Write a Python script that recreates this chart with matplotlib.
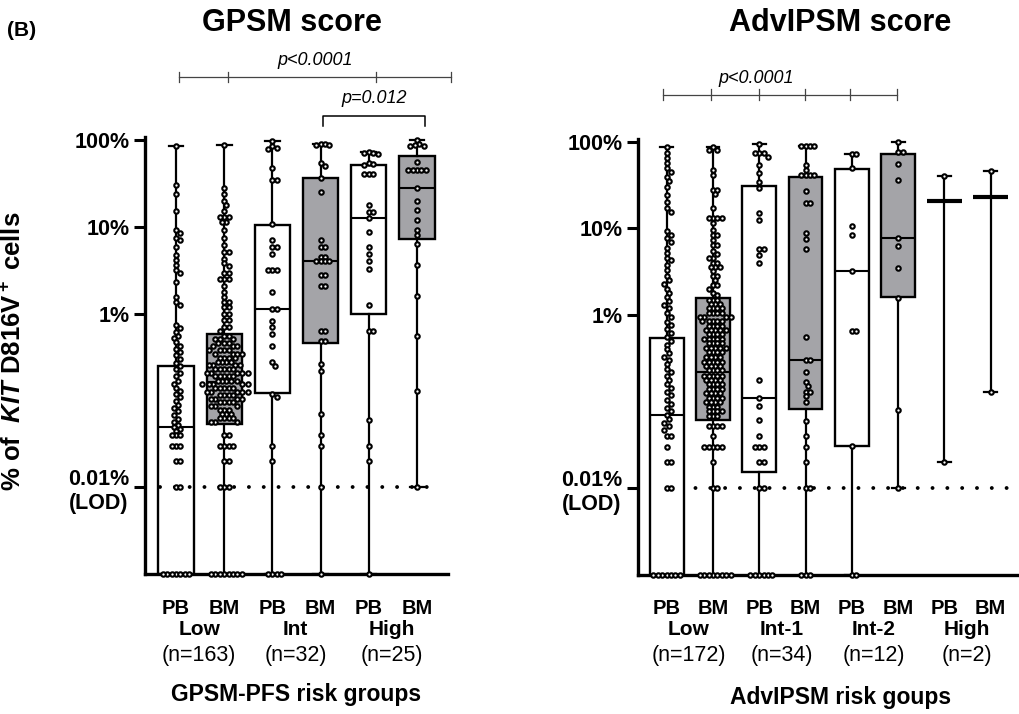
import numpy as np
import matplotlib
matplotlib.use('Agg')
import matplotlib.pyplot as plt
from matplotlib.ticker import NullLocator
from matplotlib.transforms import blended_transform_factory

plt.rcParams['font.family'] = ['Liberation Sans', 'DejaVu Sans']
plt.rcParams['mathtext.fontset'] = 'custom'
plt.rcParams['mathtext.rm'] = 'Liberation Sans:bold'
plt.rcParams['mathtext.it'] = 'Liberation Sans:italic:bold'
plt.rcParams['mathtext.bf'] = 'Liberation Sans:bold'

# ---- data (% of KIT D816V+ cells, 0.001 = below LOD) ----
gpsm_groups = ['Low', 'Int', 'High']
gpsm_n = ['(n=163)', '(n=32)', '(n=25)']
adv_groups = ['Low', 'Int-1', 'Int-2', 'High']
adv_n = ['(n=172)', '(n=34)', '(n=12)', '(n=2)']

pb_low_gpsm = [86, 30, 24, 15, 9.2, 8.4, 7.5, 7.0, 5.9, 4.7, 4.1, 3.6, 3.2, 2.9, 2.3, 1.56, 1.36, 1.25,
               0.74, 0.68, 0.62, 0.56, 0.52, 0.47, 0.43, 0.39, 0.36, 0.33, 0.30, 0.27, 0.25, 0.23,
               0.21, 0.19, 0.17, 0.155, 0.14, 0.13, 0.12, 0.11, 0.10, 0.09, 0.082, 0.075, 0.068,
               0.062, 0.057, 0.052, 0.05, 0.047, 0.045, 0.04, 0.04, 0.04, 0.03, 0.03, 0.03,
               0.02, 0.02, 0.01, 0.01, 0.001, 0.001, 0.001, 0.001, 0.001, 0.001, 0.001]
bm_low_gpsm = [87, 27.7, 24, 20, 17.8, 15.3, 12.8, 12.8, 12.8, 11.4, 11.4, 9.2, 7.5, 6.2, 5.1, 5.1,
               4.3, 3.8, 3.5, 2.9, 2.9, 2.5, 2.5, 2.5, 2.1, 1.78, 1.56, 1.36, 1.36, 1.19, 1.19,
               1.0, 1.0, 0.84, 0.84, 0.70, 0.70, 0.64,
               0.56, 0.56, 0.51, 0.51, 0.51, 0.46, 0.46, 0.46, 0.42, 0.42, 0.42,
               0.38, 0.38, 0.38, 0.38, 0.345, 0.345, 0.345, 0.345, 0.31, 0.31, 0.31, 0.31,
               0.28, 0.28, 0.28, 0.28, 0.255, 0.255, 0.255, 0.255,
               0.23, 0.23, 0.23, 0.23, 0.23, 0.21, 0.21, 0.21, 0.21, 0.21,
               0.19, 0.19, 0.19, 0.19, 0.19, 0.17, 0.17, 0.17, 0.17, 0.17,
               0.155, 0.155, 0.155, 0.155, 0.155, 0.14, 0.14, 0.14, 0.14, 0.14,
               0.127, 0.127, 0.127, 0.127, 0.127, 0.115, 0.115, 0.115, 0.115,
               0.105, 0.105, 0.105, 0.105, 0.095, 0.095, 0.095, 0.095,
               0.086, 0.086, 0.086, 0.078, 0.078, 0.078, 0.07, 0.07, 0.07,
               0.063, 0.063, 0.063, 0.063, 0.057, 0.057, 0.057,
               0.04, 0.04, 0.03, 0.03, 0.03, 0.03, 0.02, 0.02, 0.01, 0.01, 0.01,
               0.001, 0.001, 0.001, 0.001, 0.001, 0.001, 0.001, 0.001]
pb_int_gpsm = [98, 84, 80, 78, 47, 35, 35, 10.7, 7.1, 5.9, 5.9, 4.9, 3.2, 3.2, 3.2, 1.78, 1.12, 1.12,
               0.82, 0.70, 0.59, 0.43, 0.28, 0.25, 0.12, 0.11, 0.03, 0.02, 0.001, 0.001, 0.001, 0.001]
bm_int_gpsm = [90, 89, 88, 88, 54, 50, 36, 25, 7.1, 5.9, 5.9, 4.5, 4.5, 4.0, 4.0, 4.0, 4.0,
               2.8, 2.8, 2.1, 2.1, 0.64, 0.64, 0.49, 0.49, 0.265, 0.22, 0.07, 0.04, 0.03, 0.01, 0.001]
pb_high_gpsm = [72, 71, 70, 69, 54, 53, 52, 41, 41, 41, 17.8, 14.9, 14.9, 12.5, 8.8, 5.9, 4.9, 4.0,
                3.3, 1.25, 0.64, 0.64, 0.06, 0.03, 0.02, 0.001]
bm_high_gpsm = [100, 90, 88, 86, 84, 56, 45, 45, 45, 45, 45, 27.7, 20, 15.5, 12, 9.2, 8.0, 6.4,
                3.6, 1.6, 0.56, 0.13, 0.01]

pb_low_adv = [86, 73, 64, 56, 49, 45, 39, 35, 30, 24, 20, 17, 15.6, 9.2, 8.4, 7.7, 7.0, 5.9, 5.2,
              4.6, 4.3, 3.8, 3.3, 2.8, 2.5, 2.3, 2.0, 1.8, 1.6, 1.43, 1.3, 1.2, 1.05, 0.95, 0.84,
              0.76, 0.68, 0.62, 0.55, 0.50, 0.45, 0.40, 0.36, 0.33, 0.30, 0.27, 0.24, 0.22, 0.20,
              0.18, 0.16, 0.145, 0.13, 0.12, 0.105, 0.095, 0.085, 0.077, 0.07, 0.063, 0.057,
              0.052, 0.047, 0.04, 0.04, 0.03, 0.02, 0.02, 0.01, 0.01,
              0.001, 0.001, 0.001, 0.001, 0.001, 0.001, 0.001]
bm_low_adv = [86, 80, 80, 47, 41, 28, 28, 25, 17, 13, 13, 13, 13, 11.5, 9.5, 8.4, 8.4, 7.3, 6.4, 6.4,
              5.5, 5.0, 4.5, 4.5, 4.0, 4.0, 3.6, 3.6, 3.6, 3.2, 2.8, 2.8, 2.5, 2.2, 2.2, 2.0, 1.8, 1.7,
              1.5, 1.5, 1.5, 1.35, 1.35, 1.35, 1.2, 1.2, 1.2, 1.2, 1.05, 1.05, 1.05, 1.05,
              0.95, 0.95, 0.95, 0.95, 0.85, 0.85, 0.85, 0.85, 0.85, 0.75, 0.75, 0.75, 0.75,
              0.67, 0.67, 0.67, 0.67, 0.67, 0.6, 0.6, 0.6, 0.6, 0.53, 0.53, 0.53, 0.53, 0.53,
              0.47, 0.47, 0.47, 0.47, 0.42, 0.42, 0.42, 0.42, 0.42, 0.37, 0.37, 0.37, 0.37,
              0.33, 0.33, 0.33, 0.33, 0.29, 0.29, 0.29, 0.29, 0.29, 0.26, 0.26, 0.26, 0.26,
              0.23, 0.23, 0.23, 0.23, 0.2, 0.2, 0.2, 0.2, 0.2, 0.18, 0.18, 0.18, 0.18,
              0.16, 0.16, 0.16, 0.16, 0.14, 0.14, 0.14, 0.14, 0.125, 0.125, 0.125, 0.125,
              0.11, 0.11, 0.11, 0.11, 0.098, 0.098, 0.098, 0.098, 0.087, 0.087, 0.087,
              0.077, 0.077, 0.077, 0.077, 0.068, 0.068, 0.068,
              0.052, 0.052, 0.052, 0.052, 0.04, 0.03, 0.03, 0.03, 0.03, 0.03, 0.02, 0.01, 0.01,
              0.001, 0.001, 0.001, 0.001, 0.001, 0.001, 0.001, 0.001]
pb_int1_adv = [94, 73, 73, 73, 67, 54, 43, 34, 29, 15, 12.3, 5.7, 5.7, 4.9, 4.0, 0.18, 0.11, 0.089,
               0.061, 0.04, 0.03, 0.03, 0.03, 0.02, 0.02, 0.01, 0.01,
               0.001, 0.001, 0.001, 0.001, 0.001, 0.001]
bm_int1_adv = [88, 88, 88, 88, 54, 47, 41, 41, 41, 41, 27, 19.8, 19.8, 8.8, 7.5, 5.7, 0.55, 0.30,
               0.30, 0.22, 0.17, 0.152, 0.13, 0.13, 0.115, 0.10, 0.06, 0.04, 0.03, 0.02, 0.01,
               0.01, 0.001, 0.001, 0.001]
pb_int2_adv = [72, 72, 49, 10.5, 8.4, 3.25, 0.65, 0.65, 0.031, 0.001, 0.001]
bm_int2_adv = [100, 75, 75, 55, 36, 7.8, 6.3, 3.5, 1.56, 0.08, 0.01]
pb_high_adv = [40.5, 0.02]
bm_high_adv = [46, 0.13]

# box statistics (PB/BM alternating)
gpsm_q1 = [0.001, 0.053, 0.123, 0.46, 0.98, 7.2]
gpsm_med = [0.050, 0.163, 1.12, 4.0, 12.5, 27.7]
gpsm_q3 = [0.25, 0.59, 10.5, 36, 52, 65]
gpsm_lo = [0.001, 0.001, 0.001, 0.001, 0.001, 0.01]
gpsm_hi = [86, 87.5, 98, 90, 72, 100]

adv_q1 = [0.001, 0.062, 0.0154, 0.083, 0.031, 1.6, 20.5, 23]
adv_med = [0.070, 0.222, 0.111, 0.30, 3.25, 7.8, 20.5, 23]
adv_q3 = [0.54, 1.58, 31, 39.5, 48, 72, 20.5, 23]
adv_lo = [0.001, 0.001, 0.001, 0.001, 0.001, 0.01, 0.02, 0.13]
adv_hi = [86, 86, 94, 88, 72, 100, 40.5, 46]

gpsm_points = [pb_low_gpsm, bm_low_gpsm, pb_int_gpsm, bm_int_gpsm, pb_high_gpsm, bm_high_gpsm]
adv_points = [pb_low_adv, bm_low_adv, pb_int1_adv, bm_int1_adv, pb_int2_adv, bm_int2_adv,
              pb_high_adv, bm_high_adv]

W, H = 1020, 714
GRAY = '#a4a4a8'
fig = plt.figure(figsize=(W / 100, H / 100), dpi=100)


def fy(px):
    return 1 - px / H


ax1 = fig.add_axes([145 / W, fy(574.3), 303 / W, (574.3 - 137) / H])
ax2 = fig.add_axes([638 / W, fy(575), 382 / W, (575 - 138.7) / H])


def swarm(ax, pos, vals, d=4.4):
    vals = np.asarray(vals, float)
    pts = ax.transData.transform(np.column_stack([np.full(len(vals), pos), vals]))
    ypx = pts[:, 1]
    ppu = ax.transData.transform([[1, 1]])[0, 0] - ax.transData.transform([[0, 1]])[0, 0]
    cands = [0.0]
    for k in range(1, 40):
        cands += [k * d / 2, -k * d / 2]
    xs = np.zeros(len(vals))
    px_list, py_list = [], []
    for i in np.argsort(-ypx):
        y = ypx[i]
        for c in cands:
            ok = True
            for px, py in zip(px_list, py_list):
                if abs(py - y) < d and (px - c) ** 2 + (py - y) ** 2 < d ** 2:
                    ok = False
                    break
            if ok:
                break
        xs[i] = c
        px_list.append(c)
        py_list.append(y)
    return pos + xs / ppu


def panel(ax, points, q1, med, q3, lo, hi, xlim, nbox, capw):
    ax.set_yscale('log')
    ax.set_ylim(1e-3, 108)
    ax.set_xlim(*xlim)
    stats = [dict(q1=q1[i], med=med[i], q3=q3[i], whislo=lo[i], whishi=hi[i], fliers=[])
             for i in range(len(q1))]
    lp = dict(color='black', lw=1.6)
    res = ax.bxp(stats[:nbox], positions=range(nbox), widths=0.73, capwidths=capw,
                 patch_artist=True, showfliers=False,
                 boxprops=dict(edgecolor='black', lw=1.7), whiskerprops=lp, capprops=lp,
                 medianprops=dict(color='black', lw=1.5))
    for i, b in enumerate(res['boxes']):
        b.set_facecolor('white' if i % 2 == 0 else GRAY)
    if len(stats) > nbox:
        ax.bxp(stats[nbox:], positions=range(nbox, len(stats)), widths=0.75, capwidths=capw,
               showbox=False, showfliers=False, whiskerprops=lp, capprops=lp,
               medianprops=dict(color='black', lw=3.0))
    for i, v in enumerate(points):
        ax.plot(swarm(ax, i, v), v, 'o', ms=3.2, mfc='white', mec='black', mew=1.5,
                ls='none', zorder=5, clip_on=False)
    ax.set_xticks([])
    ax.set_yticks([100, 10, 1, 0.01])
    ax.set_yticklabels(['100%', '10%', '1%', '0.01%\n(LOD)'], fontsize=15.5,
                       fontweight='bold', multialignment='center')
    ax.yaxis.set_minor_locator(NullLocator())
    ax.tick_params(axis='y', length=8, width=2.2, pad=3)
    for s in ['top', 'right']:
        ax.spines[s].set_visible(False)
    for s in ['left', 'bottom']:
        ax.spines[s].set_linewidth(2.4)
    ax.patch.set_alpha(0)


panel(ax1, gpsm_points, gpsm_q1, gpsm_med, gpsm_q3, gpsm_lo, gpsm_hi, (-0.643, 5.643), 6, 0.31)
panel(ax2, adv_points, adv_q1, adv_med, adv_q3, adv_lo, adv_hi, (-0.62, 7.633), 6, 0.28)

# LOD dotted line
ax1.plot([-0.33, 5.45], [0.01, 0.01], color='black', lw=2.8, ls=(0, (0.01, 3.8)),
         dash_capstyle='round', zorder=3)
ax2.plot([-0.34, 7.7], [0.01, 0.01], color='black', lw=2.8, ls=(0, (0.01, 3.8)),
         dash_capstyle='round', zorder=1)

# x labels
for ax, groups, ns, title, ty in [(ax1, gpsm_groups, gpsm_n, 'GPSM-PFS risk groups', 701),
                                  (ax2, adv_groups, adv_n, 'AdvIPSM risk goups', 704)]:
    tr = blended_transform_factory(ax.transData, fig.transFigure)
    for j in range(len(groups)):
        ax.text(2 * j, fy(614), 'PB', transform=tr, ha='center', va='baseline',
                fontsize=14.5, fontweight='bold')
        ax.text(2 * j + 1, fy(614), 'BM', transform=tr, ha='center', va='baseline',
                fontsize=14.5, fontweight='bold')
        ax.text(2 * j + 0.48, fy(635), groups[j], transform=tr, ha='center', va='baseline',
                fontsize=15, fontweight='bold')
        ax.text(2 * j + 0.48, fy(661.5), ns[j], transform=tr, ha='center', va='baseline',
                fontsize=15.5)
    xc = 2.5 if ax is ax1 else 3.76
    ax.text(xc, fy(ty), title, transform=tr, ha='center', va='baseline',
            fontsize=16.5, fontweight='bold')

# significance brackets
tr1 = blended_transform_factory(ax1.transData, fig.transFigure)
tr2 = blended_transform_factory(ax2.transData, fig.transFigure)
bx1 = [0.06, 1.08, 4.14, 5.71]
ax1.plot([bx1[0], bx1[-1]], [fy(77), fy(77)], color='#444444', lw=0.9, transform=tr1, clip_on=False)
for x in bx1:
    ax1.plot([x, x], [fy(72), fy(82)], color='#444444', lw=0.9, transform=tr1, clip_on=False)
ax1.text(2.88, fy(65), 'p<0.0001', style='italic', fontsize=13, ha='center', va='baseline',
         transform=tr1)
ax1.plot([3.06, 3.06, 5.16, 5.16], [fy(126), fy(115.7), fy(115.7), fy(126)], color='black',
         lw=1.1, transform=tr1, clip_on=False)
ax1.text(4.12, fy(103), 'p=0.012', style='italic', fontsize=13, ha='center', va='baseline',
         transform=tr1)

bx2 = [-0.07, 0.95, 1.99, 2.99, 3.96, 4.98]
ax2.plot([bx2[0], bx2[-1]], [fy(95), fy(95)], color='#444444', lw=0.9, transform=tr2, clip_on=False)
for x in bx2:
    ax2.plot([x, x], [fy(89), fy(100)], color='#444444', lw=0.9, transform=tr2, clip_on=False)
ax2.text(1.94, fy(83), 'p<0.0001', style='italic', fontsize=13, ha='center', va='baseline',
         transform=tr2)

# titles and y label
fig.text(291.7 / W, fy(31), 'GPSM score', ha='center', va='baseline', fontsize=22, fontweight='bold')
fig.text(840 / W, fy(31), 'AdvIPSM score', ha='center', va='baseline', fontsize=22, fontweight='bold')
fig.text(7 / W, fy(36), '(B)', ha='left', va='baseline', fontsize=15, fontweight='bold')
fig.text(14 / W, fy(351), r'% of  $\mathit{KIT}$ D816V$^+$ cells', rotation=90, ha='center',
         va='center', fontsize=18.5, fontweight='bold')

fig.savefig('out.png', dpi=100)
